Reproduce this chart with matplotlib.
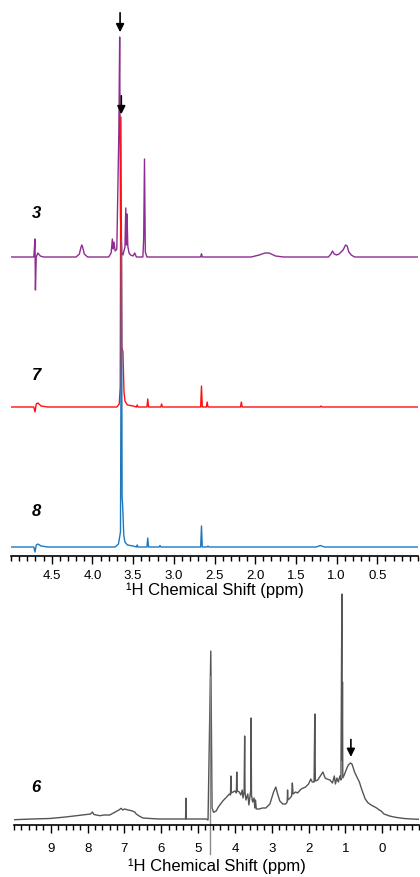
import matplotlib
matplotlib.use("Agg")
import matplotlib.pyplot as plt
from matplotlib.ticker import MultipleLocator, FixedLocator
import numpy as np

plt.rcParams['font.family'] = ['Liberation Sans', 'DejaVu Sans']

# ---- DATA (ppm, intensity above own baseline) ----
# spectrum 3 (purple)
ppm3 = [5.00, 4.72, 4.705, 4.70, 4.69, 4.67, 4.64, 4.60,
        4.20, 4.16, 4.14, 4.13, 4.12, 4.10, 4.06,
        3.80, 3.77, 3.755, 3.745, 3.735, 3.72, 3.70,
        3.675, 3.665, 3.655, 3.64, 3.625, 3.60, 3.59, 3.582, 3.575, 3.565,
        3.55, 3.53, 3.50, 3.48, 3.46, 3.38, 3.37, 3.36, 3.35, 3.33,
        2.67, 2.66, 2.65,
        2.05, 1.95, 1.88, 1.83, 1.75, 1.65,
        1.10, 1.07, 1.05, 1.03, 1.00, 0.97, 0.92, 0.89, 0.87, 0.85, 0.82, 0.78, 0.00]
int3 = [0, 0, 18, -33, 0, 4, 1, 0,
        0, 3, 10, 12, 10, 3, 0,
        0, 4, 18, 8, 15, 6, 8,
        126, 220, 40, 5, 2, 10, 49, 12, 43, 11,
        4, 2, 1, 4, 0, 0, 18, 98, 5, 0,
        0, 3.3, 0,
        0, 2, 4, 4, 1, 0,
        0, 3, 6, 3, 2, 3, 7, 12, 11, 5, 2, 0, 0]

# spectrum 7 (red)
ppm7 = [5.00, 4.72, 4.705, 4.69, 4.67, 4.63, 4.55,
        3.70, 3.67, 3.658, 3.65, 3.638, 3.625, 3.612, 3.60, 3.57, 3.50, 3.46, 3.45, 3.44,
        3.33, 3.32, 3.31, 3.16, 3.15, 3.14,
        2.67, 2.66, 2.65, 2.60, 2.59, 2.58,
        2.18, 2.17, 2.16, 1.20, 1.19, 1.18, 0.00]
int7 = [0, 0, -5, 3, 4, 1, 0,
        0, 3, 20, 290, 60, 55, 15, 6, 2, 1, 0, 2, 0,
        0, 8, 0, 0, 3, 0,
        0, 21, 0, 0, 5, 0,
        0, 5, 0, 0, 1, 0, 0]

# spectrum 8 (blue)
ppm8 = [5.00, 4.72, 4.705, 4.69, 4.67, 4.63, 4.55,
        3.72, 3.68, 3.655, 3.643, 3.635, 3.628, 3.615, 3.60, 3.57, 3.50, 3.46, 3.45, 3.44,
        3.33, 3.32, 3.31, 3.18, 3.17, 3.16,
        2.67, 2.66, 2.65, 2.59, 2.58, 2.57,
        1.25, 1.20, 1.15, 0.00]
int8 = [0, 0, -5, 2, 3, 1, 0,
        0, 3, 15, 308, 50, 41, 12, 5, 2, 1, 0, 2, 0,
        0, 9, 0, 0, 1.5, 0,
        0, 21, 0, 0, 1, 0,
        0, 1.5, 0, 0]

# spectrum 6 (grey)
ppm6 = [10.0, 9.5, 9.03, 8.6, 8.3, 8.0, 7.92, 7.87, 7.83, 7.67, 7.55, 7.40, 7.25, 7.15,
        7.09, 7.05, 7.0, 6.9, 6.81, 6.72, 6.68, 6.60, 6.50, 6.3, 6.05, 5.7, 5.51,
        5.34, 5.33, 5.32, 5.0, 4.78, 4.73,
        4.655, 4.645, 4.62, 4.58, 4.51, 4.45, 4.33, 4.25, 4.15,
        4.12, 4.11, 4.10, 4.0, 3.96, 3.95, 3.94, 3.88, 3.84, 3.80, 3.78, 3.75,
        3.735, 3.725, 3.70, 3.65, 3.62, 3.57, 3.56, 3.55, 3.52, 3.48, 3.46, 3.44,
        3.42, 3.34, 3.25, 3.16, 3.05, 2.95, 2.89, 2.84, 2.78, 2.70, 2.62, 2.58,
        2.57, 2.56, 2.50, 2.46, 2.44, 2.42, 2.35, 2.30, 2.2, 2.08, 2.0, 1.94,
        1.90, 1.85, 1.83, 1.815, 1.75, 1.68, 1.61, 1.55, 1.5, 1.42, 1.35, 1.30,
        1.27, 1.23, 1.19, 1.15, 1.12, 1.095, 1.087, 1.078, 1.07, 1.03, 0.98, 0.92,
        0.86, 0.82, 0.75, 0.7, 0.62, 0.55, 0.46, 0.38, 0.3, 0.2, 0.15, 0.09,
        0.03, -0.05, -0.2, -0.36, -0.6, -0.8, -1.0]
int6 = [0.3, 1, 1.5, 3, 4.3, 5.5, 6, 8, 5.5, 4.3, 5, 5, 8, 10,
        11.7, 10, 11, 10, 9.3, 8, 6, 4, 2, 1.5, 1, 1, 1,
        1, 21.7, 1, 1, 1, 0,
        169, 120, 12, 7.7, 9, 13, 19, 22, 26,
        25, 44, 27, 29, 27, 48, 29, 28, 25, 30, 22, 28,
        84, 28, 20, 26, 15, 30, 102, 25, 18, 22, 12, 20,
        11, 11, 12, 12, 16, 28, 33, 26, 19, 16, 16, 18,
        30, 20, 22, 24, 37, 26, 28, 27, 31, 33, 36, 41,
        38, 38, 106, 39, 40, 44, 48, 42, 41, 40, 37, 44,
        36, 42, 38, 44, 40, 226, 60, 138, 42, 45, 50, 55,
        57, 56, 48, 44, 38, 30, 21, 17, 15, 13, 12, 10.3,
        9, 6, 4, 2.7, 1.5, 1, 0.7]
# water-suppression artefact line in spectrum 6 (ppm, low end, high end)
artefact6 = [4.69, -34, 144]

labels = ["3", "7", "8", "6"]
offsets_top = [299, 149, 9]   # baselines in the stacked top panel
offset6 = 4.7
xlabel = "\u00b9H Chemical Shift (ppm)"

fig = plt.figure(figsize=(4.2, 8.78), dpi=100)
W, H = 420.0, 878.0

# ---- top panel: 3, 7, 8 stacked ----
ax1 = fig.add_axes([11 / W, 1 - 557 / H, 407 / W, 557 / H])
ax1.plot(ppm3, np.array(int3) + offsets_top[0], color="#8e2c91", lw=1.0, zorder=1)
ax1.plot(ppm7, np.array(int7) + offsets_top[1], color="#ff1010", lw=1.0, zorder=2)
ax1.plot(ppm8, np.array(int8) + offsets_top[2], color="#1f78bf", lw=1.0, zorder=3)
ax1.set_xlim(5.0, 0.0)
ax1.set_ylim(0, 557)
ax1.xaxis.set_major_locator(FixedLocator([4.5, 4.0, 3.5, 3.0, 2.5, 2.0, 1.5, 1.0, 0.5]))
ax1.set_xticklabels(["4.5", "4.0", "3.5", "3.0", "2.5", "2.0", "1.5", "1.0", "0.5"])
ax1.xaxis.set_minor_locator(MultipleLocator(0.1))
ax1.annotate("", xy=(3.66, 521), xytext=(3.66, 546),
             arrowprops=dict(arrowstyle="-|>", color="black", lw=1.2, mutation_scale=12))
ax1.annotate("", xy=(3.645, 439), xytext=(3.645, 463),
             arrowprops=dict(arrowstyle="-|>", color="black", lw=1.2, mutation_scale=12))

# ---- bottom panel: 6 ----
ax2 = fig.add_axes([14 / W, 1 - 825.7 / H, 405 / W, 240.7 / H])
ax2.plot(ppm6, np.array(int6) + offset6, color="#555555", lw=1.0)
ax2.plot([artefact6[0], artefact6[0]],
         [artefact6[1] + offset6, artefact6[2] + offset6],
         color="#8a8a8a", lw=1.0, clip_on=False)
ax2.set_xlim(10.0, -1.0)
ax2.set_ylim(0, 240.7)
ax2.xaxis.set_major_locator(FixedLocator([9, 8, 7, 6, 5, 4, 3, 2, 1, 0]))
ax2.set_xticklabels(["9", "8", "7", "6", "5", "4", "3", "2", "1", "0"])
ax2.xaxis.set_minor_locator(MultipleLocator(0.2))
ax2.annotate("", xy=(0.85, 65), xytext=(0.85, 88),
             arrowprops=dict(arrowstyle="-|>", color="black", lw=1.2, mutation_scale=12))

for ax, tpad, lpad in ((ax1, 3.5, 0.5), (ax2, 6.5, 2.5)):
    for s in ("top", "left", "right"):
        ax.spines[s].set_visible(False)
    ax.spines["bottom"].set_linewidth(1.2)
    ax.set_yticks([])
    ax.patch.set_alpha(0)
    ax.tick_params(axis="x", which="major", direction="out", length=6, width=1.0,
                   labelsize=9.5, pad=tpad)
    ax.tick_params(axis="x", which="minor", direction="out", length=3.8, width=1.0)
    ax.set_xlabel(xlabel, fontsize=12, labelpad=lpad)

# sample numbers
for lab, ypx in zip(labels, [213, 375, 512, 787]):
    fig.text(36 / W, 1 - ypx / H, lab, fontsize=12, fontweight="bold", fontstyle="italic",
             ha="center", va="center")

fig.savefig("out.png", dpi=100)
